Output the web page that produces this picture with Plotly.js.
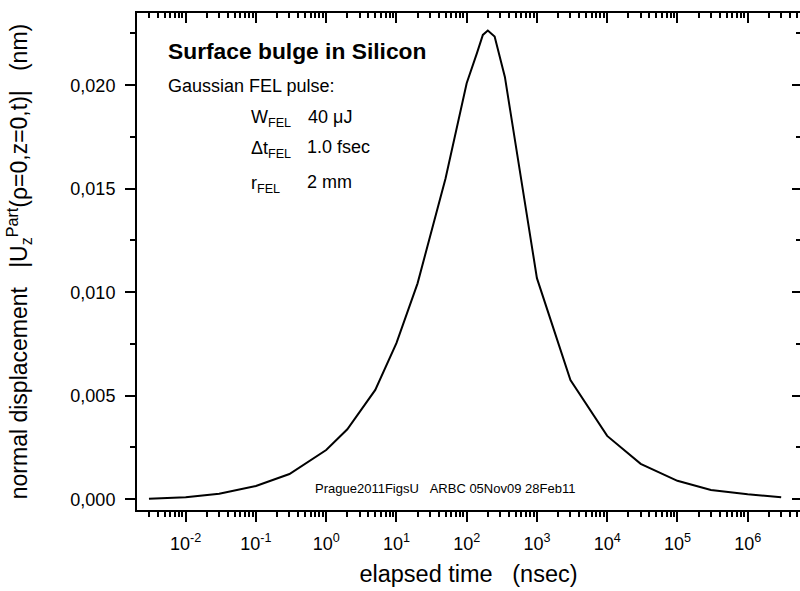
<!DOCTYPE html>
<html>
<head>
<meta charset="utf-8">
<script src="https://cdn.plot.ly/plotly-3.0.1.min.js"></script>
<style>html,body{margin:0;padding:0;background:#fff;}#chart{width:800px;height:591px;}</style>
</head>
<body>
<div id="chart"></div>
<script>
// elapsed time (nsec)
const timeNs = [0.003, 0.01, 0.03, 0.1, 0.3, 1, 2, 5, 10, 20, 50, 100, 140, 170, 200, 250, 350, 1000, 3000, 1e4, 3e4, 1e5, 3e5, 1e6, 3e6];
// normal displacement |Uz| (nm)
const dispNm = [0.00002, 0.0001, 0.00026, 0.00064, 0.00122, 0.00238, 0.00338, 0.00528, 0.00754, 0.01043, 0.0155, 0.0201, 0.02155, 0.02243, 0.02264, 0.02235, 0.0204, 0.01068, 0.00576, 0.00306, 0.00171, 0.00089, 0.00045, 0.00024, 0.0001];
const xTickVals = [1e-2, 1e-1, 1, 10, 100, 1e3, 1e4, 1e5, 1e6];
const xTickText = ['10<sup>-2</sup>', '10<sup>-1</sup>', '10<sup>0</sup>', '10<sup>1</sup>', '10<sup>2</sup>', '10<sup>3</sup>', '10<sup>4</sup>', '10<sup>5</sup>', '10<sup>6</sup>'];
const yTickVals = [0, 0.005, 0.010, 0.015, 0.020];
const yMinorVals = [0.0025, 0.0075, 0.0125, 0.0175, 0.0225];
const decades = [1e-3, 1e-2, 1e-1, 1, 10, 100, 1e3, 1e4, 1e5, 1e6];
const mantissas = [2, 3, 4, 5, 6, 7, 8, 9];

// minor tick positions on the log axis (2..9 within each decade)
const xMinorVals = [];
decades.forEach(d => mantissas.forEach(m => xMinorVals.push(d * m)));

const FONT = 'Liberation Sans, Arial, Helvetica, sans-serif';
const L = 137, R = 800, T = 13, B = 510;
const px = x => (x - L) / (R - L);
const py = y => (B - y) / (B - T);

const xRange = [-2.693, 6.745];
const yRange = [-0.00052, 0.02349];

const traces = [
  {x: timeNs, y: dispNm, type: 'scatter', mode: 'lines', xaxis: 'x', yaxis: 'y',
   line: {color: '#000', width: 2}, hoverinfo: 'x+y', showlegend: false},
  {x: [], y: [], type: 'scatter', mode: 'lines', xaxis: 'x2', yaxis: 'y2',
   hoverinfo: 'skip', showlegend: false}
];

const nb = '\u00a0';
const majorTick = {ticklen: 10, tickwidth: 2, tickcolor: '#000'};
const layout = {
  width: 800, height: 591,
  margin: {l: L, r: 800 - R, t: T, b: 591 - B, pad: 0},
  paper_bgcolor: '#fff', plot_bgcolor: '#fff',
  separators: ',.',
  font: {family: FONT, color: '#000', size: 18},
  showlegend: false,
  xaxis: Object.assign({
    type: 'log', range: xRange, autorange: false,
    showgrid: false, zeroline: false,
    showline: true, linecolor: '#000', linewidth: 2,
    ticks: 'outside',
    tickmode: 'array', tickvals: xTickVals, ticktext: xTickText,
    tickfont: {size: 18, family: FONT},
    ticklabelstandoff: 6,
    minor: {ticks: 'outside', ticklen: 5, tickwidth: 1.5, tickcolor: '#000', tickmode: 'array', tickvals: xMinorVals, showgrid: false},
    title: {text: 'elapsed time' + nb + nb + nb + '(nsec)', font: {size: 23.5, family: FONT}, standoff: 13},
    automargin: false
  }, majorTick),
  yaxis: Object.assign({
    range: yRange, autorange: false,
    showgrid: false, zeroline: false,
    showline: true, linecolor: '#000', linewidth: 2,
    ticks: 'outside',
    tickmode: 'array', tickvals: yTickVals, tickformat: '.3f',
    tickfont: {size: 18, family: FONT},
    ticklabelstandoff: 6,
    minor: {ticks: 'outside', ticklen: 5, tickwidth: 1.5, tickcolor: '#000', tickmode: 'array', tickvals: yMinorVals, showgrid: false},
    title: {text: 'normal displacement' + nb + nb + nb + '|U<sub>z</sub><sup>Part</sup>(ρ=0,z=0,t)|' + nb + nb + nb + '(nm)', font: {size: 23, family: FONT}, standoff: 36},
    automargin: false
  }, majorTick),
  xaxis2: Object.assign({
    type: 'log', range: xRange, autorange: false, overlaying: 'x', side: 'top', anchor: 'y2',
    showgrid: false, zeroline: false,
    showline: true, linecolor: '#000', linewidth: 2,
    ticks: 'inside',
    tickmode: 'array', tickvals: xTickVals, showticklabels: false,
    minor: {ticks: 'inside', ticklen: 5, tickwidth: 1.5, tickcolor: '#000', tickmode: 'array', tickvals: xMinorVals, showgrid: false},
    automargin: false
  }, majorTick),
  yaxis2: {
    range: yRange, autorange: false, overlaying: 'y', side: 'right', anchor: 'x2',
    showgrid: false, zeroline: false, showline: false,
    ticks: 'inside', ticklen: 8, tickwidth: 2, tickcolor: '#000',
    tickmode: 'array', tickvals: yTickVals, showticklabels: false,
    minor: {ticks: 'inside', ticklen: 4, tickwidth: 1.5, tickcolor: '#000', tickmode: 'array', tickvals: yMinorVals, showgrid: false},
    automargin: false
  },
  annotations: [
    {xref: 'paper', yref: 'paper', x: px(166), y: py(51), xanchor: 'left', yanchor: 'middle', showarrow: false,
     text: '<b>Surface bulge in Silicon</b>', font: {size: 22.8, family: FONT}},
    {xref: 'paper', yref: 'paper', x: px(166), y: py(86), xanchor: 'left', yanchor: 'middle', showarrow: false,
     text: 'Gaussian FEL pulse:', font: {size: 18, family: FONT}},
    {xref: 'paper', yref: 'paper', x: px(249), y: py(119), xanchor: 'left', yanchor: 'middle', showarrow: false,
     text: 'W<sub>FEL</sub>', font: {size: 18, family: FONT}},
    {xref: 'paper', yref: 'paper', x: px(306), y: py(117), xanchor: 'left', yanchor: 'middle', showarrow: false,
     text: '40 μJ', font: {size: 18, family: FONT}},
    {xref: 'paper', yref: 'paper', x: px(249), y: py(149), xanchor: 'left', yanchor: 'middle', showarrow: false,
     text: 'Δt<sub>FEL</sub>', font: {size: 18, family: FONT}},
    {xref: 'paper', yref: 'paper', x: px(305), y: py(147), xanchor: 'left', yanchor: 'middle', showarrow: false,
     text: '1.0 fsec', font: {size: 18, family: FONT}},
    {xref: 'paper', yref: 'paper', x: px(249), y: py(184), xanchor: 'left', yanchor: 'middle', showarrow: false,
     text: 'r<sub>FEL</sub>', font: {size: 18, family: FONT}},
    {xref: 'paper', yref: 'paper', x: px(305), y: py(182), xanchor: 'left', yanchor: 'middle', showarrow: false,
     text: '2 mm', font: {size: 18, family: FONT}},
    {xref: 'paper', yref: 'paper', x: px(313), y: py(488), xanchor: 'left', yanchor: 'middle', showarrow: false,
     text: 'Prague2011FigsU' + nb + nb + nb + 'ARBC 05Nov09 28Feb11', font: {size: 13, family: FONT}}
  ]
};

Plotly.newPlot('chart', traces, layout, {displayModeBar: false});
</script>
</body>
</html>
